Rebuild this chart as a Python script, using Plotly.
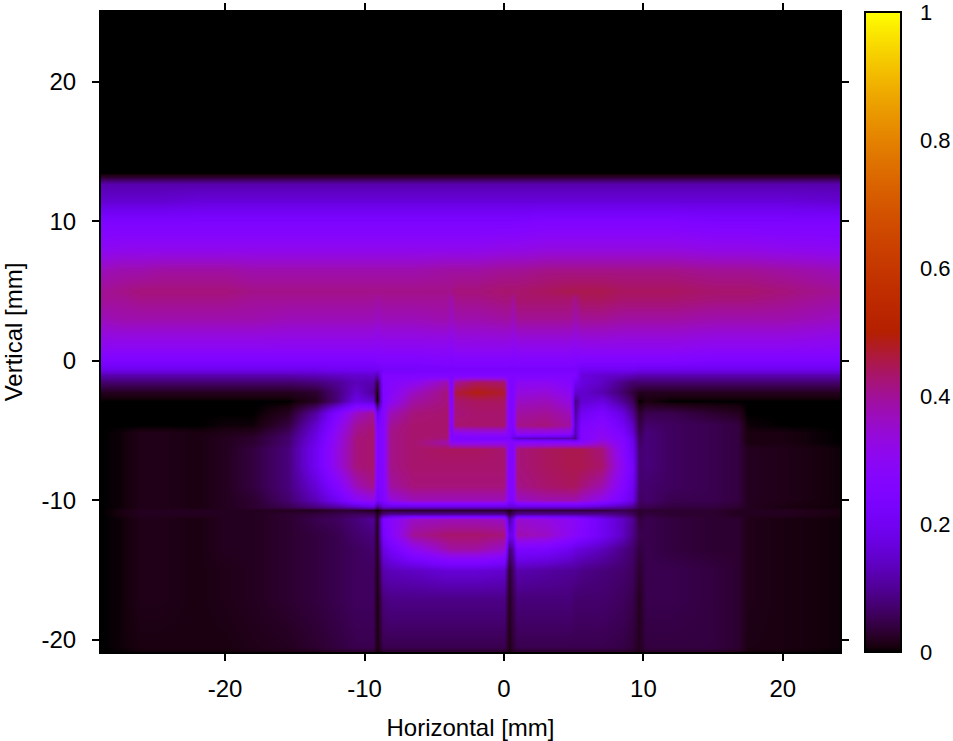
import math
import plotly.graph_objects as go

X_MM = [-28.85,-27.5,-26,-24.5,-22,-20,-18,-15.5,-13.5,-12,-10.6,-9.4,-9.1,-8.7,-8.2,-6.5,-4.1,-3.8,-3.5,-2,0,0.35,0.65,0.95,3,4.7,5.1,5.5,7,8.5,9.2,9.7,10.2,12,15,16.8,17.4,20,24.1]
Y_MM = [25,13.45,13.2,12.7,11.5,10,8,6.5,5,4.4,3,1,0,-0.6,-1,-1.5,-2.2,-2.9,-3.7,-4.6,-5.2,-5.5,-5.8,-6.3,-7.5,-9,-10,-10.45,-10.7,-10.95,-11.3,-12.5,-13.5,-15,-17,-20.5,-20.9]

INTENSITY = [
[0]*39,
[0]*39,
[.03,.03,.03,.03,.03,.03,.03,.03,.03,.03,.03,.03,.03,.03,.03,.03,.03,.03,.03,.03,.03,.03,.03,.03,.03,.03,.03,.03,.03,.03,.03,.03,.03,.03,.03,.03,.03,.03,.03],
[.12,.12,.12,.12,.12,.12,.12,.12,.12,.12,.12,.12,.12,.12,.12,.12,.12,.12,.12,.12,.12,.12,.12,.12,.12,.12,.12,.12,.12,.12,.12,.12,.12,.12,.12,.12,.12,.12,.12],
[.15,.15,.15,.15,.16,.16,.16,.16,.16,.16,.16,.16,.16,.16,.16,.16,.16,.16,.16,.16,.16,.16,.16,.16,.16,.16,.16,.16,.16,.16,.16,.16,.16,.16,.16,.16,.16,.16,.15],
[.24,.24,.24,.24,.24,.24,.24,.24,.24,.24,.24,.24,.24,.24,.24,.24,.24,.24,.24,.24,.24,.24,.24,.24,.25,.25,.25,.25,.25,.25,.25,.25,.25,.25,.24,.24,.24,.24,.24],
[.30,.31,.31,.31,.31,.31,.31,.31,.31,.31,.31,.31,.31,.31,.31,.31,.31,.31,.31,.31,.32,.32,.32,.32,.33,.33,.33,.33,.33,.33,.33,.33,.33,.33,.32,.32,.32,.31,.30],
[.37,.38,.38,.39,.39,.39,.38,.38,.38,.38,.38,.38,.38,.38,.38,.38,.39,.39,.39,.39,.40,.40,.40,.40,.41,.41,.41,.41,.41,.41,.41,.41,.41,.41,.40,.40,.40,.39,.37],
[.40,.41,.42,.42,.42,.42,.41,.41,.41,.41,.41,.41,.41,.41,.41,.41,.41,.41,.42,.42,.43,.43,.43,.43,.44,.45,.45,.45,.45,.44,.44,.44,.44,.44,.43,.43,.43,.42,.40],
[.40,.40,.41,.41,.41,.41,.40,.40,.40,.40,.40,.40,.39,.40,.40,.40,.40,.38,.41,.41,.42,.42,.40,.43,.43,.43,.41,.44,.44,.43,.43,.43,.43,.43,.42,.42,.42,.41,.39],
[.37,.38,.38,.38,.38,.38,.38,.37,.37,.37,.37,.37,.36,.37,.37,.37,.38,.36,.38,.38,.39,.39,.37,.40,.40,.40,.38,.40,.40,.39,.39,.39,.39,.39,.38,.38,.38,.38,.36],
[.30,.30,.30,.30,.30,.30,.30,.30,.30,.30,.30,.30,.29,.30,.30,.30,.30,.29,.31,.31,.31,.31,.30,.31,.31,.31,.30,.31,.31,.31,.31,.31,.31,.31,.30,.30,.30,.30,.29],
[.24,.24,.24,.24,.24,.24,.24,.24,.24,.24,.24,.24,.25,.25,.25,.25,.26,.25,.26,.26,.26,.26,.25,.26,.26,.26,.25,.25,.25,.25,.25,.25,.25,.25,.24,.24,.24,.24,.24],
[.19,.19,.19,.19,.19,.19,.19,.19,.19,.20,.20,.20,.20,.22,.22,.22,.23,.23,.23,.23,.23,.23,.23,.23,.23,.23,.23,.20,.20,.20,.20,.19,.19,.19,.19,.19,.19,.19,.19],
[.12,.12,.12,.12,.12,.12,.12,.12,.13,.14,.15,.15,.12,.25,.25,.25,.25,.25,.25,.25,.25,.25,.25,.25,.25,.25,.25,.17,.15,.14,.13,.12,.12,.12,.12,.12,.12,.12,.12],
[.07,.07,.07,.07,.07,.07,.07,.07,.08,.10,.13,.12,.04,.25,.27,.30,.38,.24,.40,.44,.43,.25,.25,.30,.30,.27,.20,.17,.14,.09,.07,.07,.07,.07,.07,.07,.07,.07,.07],
[.02,.02,.02,.02,.02,.02,.02,.02,.03,.08,.15,.10,.01,.25,.28,.36,.42,.25,.46,.49,.47,.25,.25,.33,.34,.30,.15,.15,.12,.07,.04,.02,.02,.02,.02,.02,.02,.02,.02],
[0,0,0,0,0,0,0,0,.02,.08,.18,.15,0,.25,.30,.39,.42,.26,.43,.44,.44,.25,.25,.36,.37,.33,.08,.15,.17,.10,.06,0,.01,0,0,0,0,0,0],
[0,0,0,0,0,0,0,.02,.11,.25,.36,.40,.18,.27,.37,.42,.43,.27,.42,.43,.43,.26,.26,.39,.40,.37,.10,.20,.24,.17,.10,.03,.05,.05,.03,.02,0,0,0],
[0,0,0,0,0,.005,.005,.04,.15,.29,.40,.42,.24,.27,.40,.43,.43,.26,.43,.43,.43,.26,.26,.41,.42,.39,.12,.24,.28,.21,.14,.04,.07,.06,.05,.04,.005,0,0],
[0,.005,.015,.015,.01,.015,.02,.06,.17,.31,.41,.43,.25,.27,.41,.43,.43,.26,.30,.31,.31,.26,.22,.31,.31,.30,.12,.26,.30,.24,.16,.05,.08,.06,.05,.04,.01,.01,0],
[0,.005,.015,.015,.01,.02,.03,.07,.18,.32,.42,.43,.25,.27,.41,.43,.42,.25,.25,.24,.24,.24,.17,.14,.13,.12,.10,.25,.31,.26,.18,.06,.08,.06,.05,.04,.01,.01,0],
[0,.005,.015,.015,.01,.02,.03,.07,.19,.32,.42,.43,.25,.27,.41,.43,.38,.30,.30,.30,.30,.28,.27,.28,.28,.28,.27,.28,.35,.27,.19,.06,.08,.06,.05,.04,.01,.01,0],
[0,.005,.015,.015,.01,.02,.04,.08,.20,.33,.42,.43,.25,.27,.41,.43,.44,.44,.44,.44,.43,.26,.27,.42,.44,.45,.45,.45,.42,.28,.20,.07,.08,.06,.05,.04,.02,.015,.005],
[0,.005,.015,.015,.01,.02,.04,.08,.20,.33,.42,.43,.25,.27,.41,.43,.43,.43,.43,.43,.43,.26,.27,.42,.44,.45,.45,.45,.43,.30,.22,.07,.08,.06,.05,.04,.02,.015,.005],
[0,.005,.015,.015,.01,.02,.04,.08,.16,.26,.37,.41,.24,.26,.39,.42,.42,.42,.42,.42,.42,.26,.27,.41,.43,.44,.44,.42,.38,.27,.20,.07,.07,.06,.05,.04,.02,.015,.005],
[0,.005,.015,.015,.01,.02,.03,.07,.13,.20,.29,.32,.22,.25,.33,.37,.37,.37,.37,.37,.37,.26,.26,.36,.38,.38,.38,.36,.31,.23,.18,.06,.07,.05,.05,.04,.02,.015,.005],
[0,.005,.015,.015,.01,.02,.03,.05,.08,.10,.13,.16,.08,.15,.15,.15,.15,.15,.15,.15,.15,.15,.15,.15,.15,.15,.15,.15,.13,.11,.09,.05,.05,.04,.04,.03,.02,.01,.005],
[0,.01,.02,.02,.02,.02,.02,.02,.02,.03,.03,.02,0,.03,.03,.03,.03,.03,.03,.03,.03,.01,.03,.04,.04,.04,.04,.04,.04,.05,.04,.03,.03,.03,.03,.02,.02,.02,.01],
[0,.01,.02,.02,.02,.02,.02,.03,.04,.05,.06,.06,.02,.08,.10,.10,.10,.10,.10,.10,.10,.04,.07,.10,.10,.10,.10,.10,.10,.08,.06,.03,.04,.03,.03,.02,.02,.02,.01],
[0,.005,.015,.015,.01,.02,.02,.03,.05,.06,.08,.10,.02,.24,.28,.36,.37,.37,.37,.37,.36,.10,.18,.35,.33,.30,.29,.27,.20,.14,.10,.04,.05,.04,.03,.03,.015,.01,.005],
[0,.005,.015,.015,.01,.02,.02,.03,.04,.05,.07,.08,.02,.22,.27,.40,.43,.43,.43,.43,.42,.18,.20,.38,.36,.30,.28,.26,.20,.14,.09,.05,.05,.04,.03,.03,.015,.01,.005],
[0,.005,.015,.015,.01,.02,.02,.03,.04,.05,.06,.07,.02,.17,.21,.30,.38,.39,.39,.39,.35,.07,.12,.24,.23,.19,.17,.16,.13,.09,.07,.04,.05,.04,.03,.03,.015,.01,.005],
[0,.005,.015,.015,.01,.015,.02,.03,.04,.05,.06,.06,.015,.12,.13,.14,.16,.16,.16,.16,.15,.03,.07,.12,.11,.10,.10,.09,.08,.07,.06,.03,.05,.05,.04,.03,.015,.01,.005],
[0,.005,.015,.015,.01,.015,.02,.03,.04,.05,.06,.06,.01,.08,.09,.09,.09,.09,.09,.09,.09,.02,.05,.08,.08,.08,.07,.07,.07,.06,.05,.02,.05,.05,.04,.03,.015,.01,.005],
[0,.005,.01,.01,.01,.01,.015,.02,.03,.04,.05,.05,.01,.05,.05,.05,.05,.05,.05,.05,.05,.015,.035,.05,.05,.05,.05,.05,.05,.045,.035,.02,.04,.04,.04,.03,.012,.01,.005],
[0,0,.005,.005,.005,.005,.01,.01,.015,.02,.02,.02,.005,.02,.02,.02,.02,.02,.02,.02,.02,.01,.015,.02,.02,.02,.02,.02,.02,.02,.02,.01,.02,.02,.02,.015,.005,.005,0],
]

X_TICKS = [-20, -10, 0, 10, 20]
Y_TICKS = [-20, -10, 0, 10, 20]
CB_TICKS = [0, 0.2, 0.4, 0.6, 0.8, 1]

FONT = "Liberation Sans"
W, H = 953, 741
L, R, T, B = 101, 840, 12, 652
CB_L, CB_R = 865, 901


def gnuplot_colour(v):
    r = math.sqrt(v)
    g = v ** 3
    b = max(0.0, math.sin(2 * math.pi * v))
    return f"rgb({round(r*255)},{round(g*255)},{round(b*255)})"


scale = [[i / 128, gnuplot_colour(i / 128)] for i in range(129)]


def px(p):
    return (p - L) / (R - L)


fig = go.Figure(
    go.Heatmap(
        x=X_MM,
        y=Y_MM[::-1],
        z=INTENSITY[::-1],
        zmin=0,
        zmax=1,
        zsmooth="best",
        colorscale=scale,
        hoverinfo="skip",
        colorbar=dict(
            x=px(CB_L),
            xanchor="left",
            xref="paper",
            y=0,
            yanchor="bottom",
            len=1,
            lenmode="fraction",
            thickness=CB_R - CB_L,
            thicknessmode="pixels",
            xpad=0,
            ypad=0,
            outlinecolor="black",
            outlinewidth=2,
            borderwidth=0,
            tickmode="array",
            tickvals=CB_TICKS,
            ticktext=[str(t) for t in CB_TICKS],
            ticks="outside",
            ticklen=14,
            tickwidth=1,
            tickcolor="rgba(0,0,0,0)",
            ticklabeloverflow="allow",
            tickfont=dict(family=FONT, size=22, color="black"),
        ),
    )
)

axis_common = dict(
    showgrid=False,
    zeroline=False,
    showline=True,
    linecolor="black",
    linewidth=2,
    mirror="ticks",
    ticks="outside",
    ticklen=7,
    tickwidth=2,
    tickcolor="black",
    tickfont=dict(family=FONT, size=24, color="black"),
    automargin=False,
)

cb_tick_shapes = []
for t in CB_TICKS[1:-1]:
    for a, b in ((CB_L, CB_L + 7), (CB_R - 7, CB_R)):
        cb_tick_shapes.append(
            dict(
                type="line",
                xref="paper",
                yref="paper",
                x0=px(a),
                x1=px(b),
                y0=t,
                y1=t,
                line=dict(color="black", width=2),
            )
        )

fig.update_layout(
    width=W,
    height=H,
    autosize=False,
    margin=dict(l=L, r=W - R, t=T, b=H - B, pad=0, autoexpand=False),
    paper_bgcolor="white",
    plot_bgcolor="black",
    font=dict(family=FONT, size=24, color="black"),
    xaxis=dict(
        range=[-28.9, 24.1],
        tickvals=X_TICKS,
        ticktext=[str(t) for t in X_TICKS],
        ticklabelstandoff=7,
        title=dict(text="Horizontal [mm]", font=dict(family=FONT, size=24), standoff=18),
        **axis_common,
    ),
    yaxis=dict(
        range=[-20.86, 25.0],
        tickvals=Y_TICKS,
        ticktext=[str(t) for t in Y_TICKS],
        ticklabelstandoff=11,
        title=dict(text="Vertical [mm]", font=dict(family=FONT, size=24), standoff=16),
        **axis_common,
    ),
    shapes=cb_tick_shapes,
)

fig.write_html(
    "out.html",
    config=dict(displayModeBar=False),
    post_script="document.body.style.margin='0';document.documentElement.style.overflow='hidden';",
)
